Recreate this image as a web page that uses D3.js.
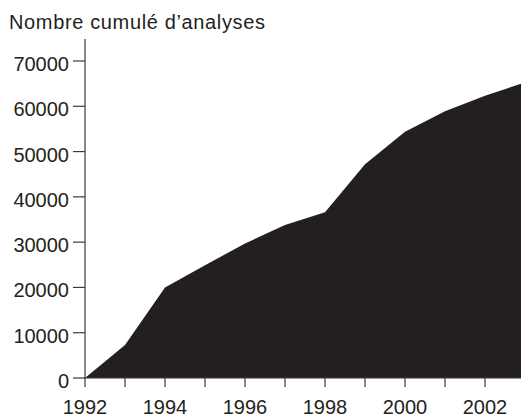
<!DOCTYPE html>
<html><head><meta charset="utf-8">
<script src="https://cdn.jsdelivr.net/npm/d3@7"></script>
<style>body{margin:0;background:#fff}svg{display:block}text{font-family:"Liberation Sans",Arial,sans-serif;fill:#231f20}</style>
</head><body>
<script>
const years = [1992,1993,1994,1995,1996,1997,1998,1999,2000,2001,2002,2003];
const values = [0,7300,20000,24900,29700,33800,36600,47200,54400,58900,62300,65300];
const yTicks = [0,10000,20000,30000,40000,50000,60000,70000];
const xLabels = [1992,1994,1996,1998,2000,2002];
const title = "Nombre cumulé d’analyses";

const W=521,H=417;
const svg=d3.select("body").append("svg").attr("width",W).attr("height",H);
const x=d3.scaleLinear().domain([1992,2003]).range([85,525]);
const y=d3.scaleLinear().domain([0,70000]).range([378,61]);
const data=years.map((d,i)=>({yr:d,v:values[i]}));

svg.append("path").datum(data)
 .attr("d",d3.area().x(d=>x(d.yr)).y0(y(0)).y1(d=>y(d.v)))
 .attr("fill","#231f20");

const ax=svg.append("g").attr("stroke","#3a3a3a").attr("stroke-width",1.2);
ax.append("line").attr("x1",x(1992)).attr("x2",x(1992)).attr("y1",39).attr("y2",y(0));
ax.append("line").attr("x1",x(1992)).attr("x2",W).attr("y1",y(0)).attr("y2",y(0));
yTicks.forEach(t=>{
  ax.append("line").attr("x1",x(1992)-12).attr("x2",x(1992)).attr("y1",y(t)).attr("y2",y(t));
  svg.append("text").attr("x",69).attr("y",y(t)).attr("dy","0.5em").attr("text-anchor","end").attr("font-size",20).text(t);
});
years.forEach(t=>{
  ax.append("line").attr("x1",x(t)).attr("x2",x(t)).attr("y1",y(0)).attr("y2",y(0)+9);
});
xLabels.forEach(t=>{
  svg.append("text").attr("x",x(t)).attr("y",414).attr("text-anchor","middle").attr("font-size",20).text(t);
});
svg.append("text").attr("x",9).attr("y",29).attr("font-size",20).attr("textLength",256).attr("lengthAdjust","spacing").text(title);
</script>
</body></html>
